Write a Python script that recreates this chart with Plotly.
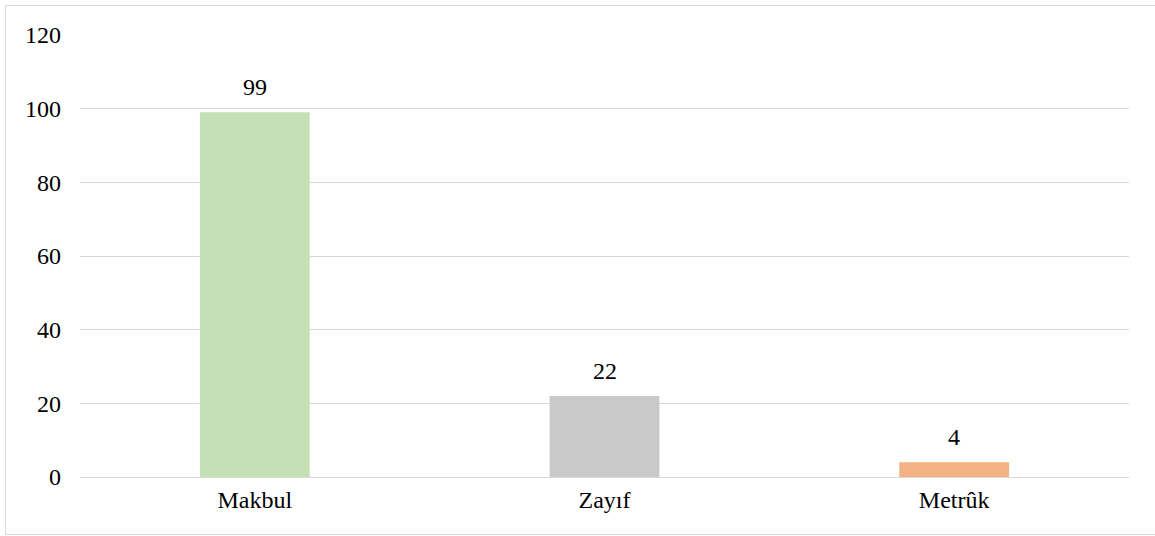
import plotly.graph_objects as go

categories = ["Makbul", "Zayıf", "Metrûk"]
values = [99, 22, 4]
colors = ["#C5E0B4", "#C9C9C9", "#F4B183"]
y_ticks = [0, 20, 40, 60, 80, 100, 120]

W, H = 1155, 536
L, R, T, B = 80, 26, 35, 59
FONT = dict(family="Liberation Serif", size=24, color="#000000")

fig = go.Figure()
fig.add_trace(go.Bar(
    x=categories, y=values, marker=dict(color=colors, line=dict(width=0)),
    hoverinfo="skip", showlegend=False,
))
for c, v in zip(categories, values):
    fig.add_annotation(x=c, y=v, text=str(v), showarrow=False, yanchor="bottom",
                       yshift=10, font=FONT)

pw, ph = W - L - R, H - T - B

def px_x(p):
    return (p - L) / pw

def px_y(p):
    return (T + ph - p) / ph

fig.add_shape(type="rect", xref="paper", yref="paper",
              x0=px_x(5.5), x1=px_x(1165), y0=px_y(534.5), y1=px_y(5.5),
              line=dict(color="#D9D9D9", width=1), layer="below")

fig.update_layout(
    width=W, height=H, margin=dict(l=L, r=R, t=T, b=B, autoexpand=False),
    paper_bgcolor="white", plot_bgcolor="white", bargap=0.686,
    font=FONT,
)
fig.update_xaxes(showgrid=False, showline=False, ticks="", tickfont=FONT, ticklabelstandoff=6)
fig.update_yaxes(range=[0, 120], tickvals=y_ticks, showgrid=True, gridcolor="#D9D9D9",
                 gridwidth=1, zeroline=True, zerolinecolor="#D9D9D9", zerolinewidth=1,
                 showline=False, ticks="", tickfont=FONT, ticklabelstandoff=18)

fig.write_html("out.html", config={"displayModeBar": False},
               post_script="document.body.style.margin='0';document.body.style.overflow='hidden';")
